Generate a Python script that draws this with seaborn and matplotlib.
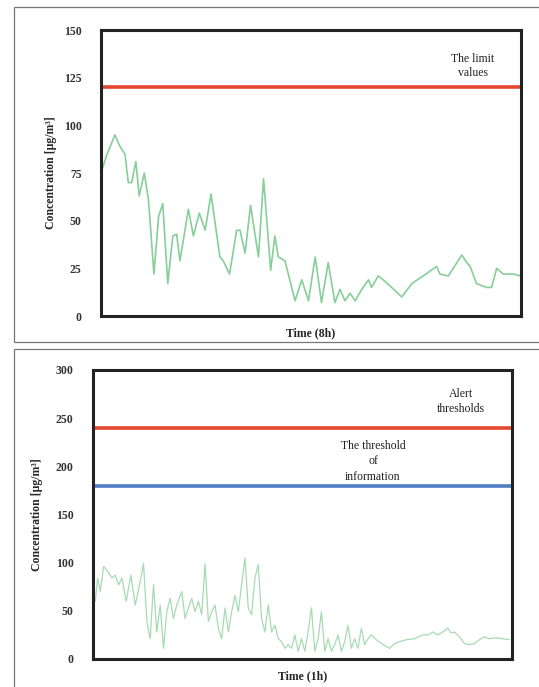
import matplotlib
matplotlib.use("Agg")
import matplotlib.pyplot as plt
import seaborn as sns
import pandas as pd
from matplotlib.patches import Rectangle

# 8h averages (top panel)
time_8h = [0, 1.3, 3.3, 4.5, 5.7, 6.5, 7.3, 8.3, 9.1, 10.3, 11.3, 12.6, 13.7, 14.7,
           15.9, 17.1, 18.0, 18.8, 20.8, 22.0, 23.4, 24.8, 26.2, 28.3, 29.1, 30.6,
           32.3, 33.1, 34.3, 35.6, 37.5, 38.7, 40.4, 41.4, 42.2, 43.8, 46.2, 47.8,
           49.4, 51.0, 52.5, 54.1, 55.7, 56.9, 58.1, 59.3, 60.5, 62.1, 63.7, 64.4,
           66.0, 67.2, 69.2, 71.6, 74.0, 76.7, 79.9, 80.7, 82.7, 85.9, 87.1, 87.9,
           89.4, 91.8, 93.0, 94.2, 95.8, 98.2, 100]
conc_8h = [75, 84, 95, 89, 85, 70, 70, 81, 63, 75, 61, 22, 52, 59,
           17, 42, 43, 29, 56, 42, 54, 45, 64, 31, 29, 22,
           45, 45, 33, 58, 31, 72, 24, 42, 31, 29, 8, 19,
           8, 31, 7, 28, 7, 14, 8, 12, 8, 14, 19, 15,
           21, 19, 15, 10, 17, 21, 26, 22, 21, 32, 28, 26,
           17, 15, 15, 25, 22, 22, 21]
limit_value = 120

# 1h averages (bottom panel)
conc_1h = [60, 84, 70, 96, 91, 84, 87, 77, 84, 60, 87, 56, 77, 99, 39, 21, 77, 28,
           56, 11, 49, 63, 42, 56, 70, 42, 53, 63, 49, 60, 46, 99, 39, 49, 56, 32,
           21, 53, 28, 49, 66, 49, 77, 105, 53, 46, 84, 98, 42, 28, 56, 28, 35, 21,
           18, 11, 15, 11, 25, 8, 21, 8, 28, 53, 8, 21, 49, 8, 21, 8, 15, 25, 8, 18,
           35, 11, 21, 11, 32, 15, 21, 25, 20, 15, 11, 16, 18, 20, 21, 25, 25, 28,
           25, 28, 32, 27, 28, 23, 16, 15, 16, 20, 23, 21, 22, 21, 20]
time_1h = [0.7, 1.4, 2.2, 3.2, 4.4, 5.7, 6.7, 7.7, 8.7, 10.0, 11.4, 12.7, 14.0, 15.2,
           16.2, 17.2, 18.2, 19.2, 20.2, 21.2, 22.2, 23.2, 24.2, 25.2, 26.7, 27.7,
           28.7, 29.7, 30.7, 31.7, 32.7, 33.7, 34.7, 35.7, 36.7, 37.7, 38.7, 39.7,
           40.7, 41.7, 42.7, 43.7, 44.7, 45.7, 46.7, 47.7, 48.7, 49.7, 50.7, 51.7,
           52.7, 53.7, 54.7, 55.7, 56.7, 57.7, 58.7, 59.7, 60.7, 61.7, 62.7, 63.7,
           64.7, 65.7, 66.7, 67.7, 68.7, 69.7, 70.7, 71.7, 72.7, 73.7, 74.7, 75.7,
           76.7, 77.7, 78.7, 79.7, 80.7, 81.7, 82.7, 83.7, 85.2, 87.2, 89.2, 90.7,
           92.2, 94.2, 96.7, 99.2, 100.7, 102.2, 103.7, 105.2, 106.7, 107.7, 108.7,
           110.2, 111.7, 113.2, 114.7, 116.2, 117.7, 119.2, 121.2, 123.2, 125.2]
alert_threshold = 240
info_threshold = 180

sns.set_style("white")
plt.rcParams['font.family'] = ['Liberation Serif', 'DejaVu Serif']

fig = plt.figure(figsize=(5.39, 6.87), dpi=100)

# gray frames around each panel
fig.patches.append(Rectangle((0.026, 0.502), 0.98, 0.488, transform=fig.transFigure,
                             fill=False, edgecolor='#777777', linewidth=0.9))
fig.patches.append(Rectangle((0.026, -0.05), 0.98, 0.542, transform=fig.transFigure,
                             fill=False, edgecolor='#777777', linewidth=0.9))

ax1 = fig.add_axes([0.1874, 0.540, 0.7792, 0.4163])
ax2 = fig.add_axes([0.1725, 0.0408, 0.7774, 0.4207])

df8 = pd.DataFrame({'time': time_8h, 'conc': conc_8h})
sns.lineplot(data=df8, x='time', y='conc', ax=ax1, color='#86cf98', linewidth=1.2)
ax1.axhline(limit_value, color='#e5472f', linewidth=2.6)
ax1.text(88.5, 131, 'The limit\nvalues', ha='center', va='center', fontsize=8.5,
         linespacing=1.25, color='#222222')
ax1.set_xlim(0, 100)
ax1.set_ylim(0, 150)
ax1.set_yticks(range(0, 151, 25))

df1 = pd.DataFrame({'time': time_1h, 'conc': conc_1h})
sns.lineplot(data=df1, x='time', y='conc', ax=ax2, color='#a6dbb2', linewidth=0.9)
ax2.axhline(alert_threshold, color='#e5472f', linewidth=2.6)
ax2.axhline(info_threshold, color='#4f7fc4', linewidth=2.6)
ax2.text(110.7, 267, 'Alert\nthresholds', ha='center', va='center', fontsize=8.5,
         linespacing=1.3, color='#222222')
ax2.text(84.2, 205, 'The threshold\nof\ninformation', ha='center', va='center',
         fontsize=8.5, linespacing=1.35, color='#222222')
ax2.set_xlim(0, 126)
ax2.set_ylim(0, 300)
ax2.set_yticks(range(0, 301, 50))

for ax, xl, lp in [(ax1, 'Time (8h)', 5), (ax2, 'Time (1h)', 9)]:
    ax.set_xticks([])
    ax.tick_params(axis='y', length=0, pad=14, labelsize=8.5, labelcolor='#333333')
    for lab in ax.get_yticklabels():
        lab.set_fontweight('bold')
    for sp in ax.spines.values():
        sp.set_linewidth(2.2)
        sp.set_color('#222222')
    ax.set_xlabel(xl, fontsize=8.5, fontweight='bold', labelpad=8)
    ax.set_ylabel('Concentration [μg/m³]', fontsize=8.5, fontweight='bold', labelpad=lp)

fig.savefig('out.png', dpi=100)
